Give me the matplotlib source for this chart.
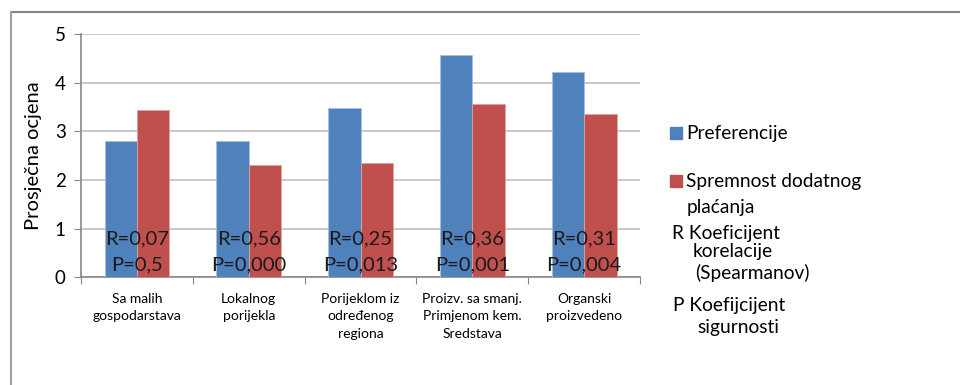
import numpy as np
import matplotlib.pyplot as plt
from matplotlib.lines import Line2D
from matplotlib.patches import Rectangle

plt.rcParams['font.family'] = ['Lato', 'DejaVu Sans']

# Average scores per product attribute
categories = ['Sa malih\ngospodarstava', 'Lokalnog\nporijekla', 'Porijeklom iz\nodređenog\nregiona',
              'Proizv. sa smanj.\nPrimjenom kem.\nSredstava', 'Organski\nproizvedeno']
preferencije = [2.80, 2.80, 3.48, 4.56, 4.22]
spremnost = [3.44, 2.31, 2.34, 3.56, 3.35]
r_values = ['0,07', '0,56', '0,25', '0,36', '0,31']
p_values = ['0,5', '0,000', '0,013', '0,001', '0,004']

blue = '#4F81BD'
red = '#C0504D'

fig = plt.figure(figsize=(9.6, 3.85), dpi=100)
ax = fig.add_axes([0.0844, 0.2797, 0.5823, 0.632])

x = np.arange(len(categories))
w = 0.29
ax.bar(x - w / 2, preferencije, w, color=blue, edgecolor='#A8BEDC', linewidth=0.6, zorder=3)
ax.bar(x + w / 2, spremnost, w, color=red, edgecolor='#DDA3A2', linewidth=0.6, zorder=3)

for i in x:
    ax.text(i, 0.80, 'R=' + r_values[i], ha='center', va='center', fontsize=14.5, color='#1a1a1a', zorder=4)
    ax.text(i, 0.26, 'P=' + p_values[i], ha='center', va='center', fontsize=14.5, color='#1a1a1a', zorder=4)

ax.set_xlim(-0.5, len(categories) - 0.5)
ax.set_ylim(0, 5)
ax.set_yticks(range(6))
ax.tick_params(axis='y', labelsize=13.5, length=5, color='#868686', pad=6)
ax.yaxis.grid(True, color='#C0C0C0', linewidth=1.2, zorder=0)
ax.set_axisbelow(True)

# category boundaries carry the ticks, names sit in between
ax.set_xticks(np.arange(-0.5, len(categories)), labels=[''] * (len(categories) + 1))
ax.set_xticks(x, labels=categories, minor=True)
ax.tick_params(axis='x', which='major', length=5, color='#868686')
ax.tick_params(axis='x', which='minor', length=0, labelsize=10, pad=11)
for lbl in ax.get_xticklabels(minor=True):
    lbl.set_linespacing(1.55)

for side in ('top', 'right'):
    ax.spines[side].set_visible(False)
for side in ('left', 'bottom'):
    ax.spines[side].set_color('#868686')
    ax.spines[side].set_linewidth(1.2)

ax.set_ylabel('Prosječna ocjena', fontsize=14.5, labelpad=9)

# legend and explanations on the right
def fy(py):
    return 1 - py / 385

def fx(px):
    return px / 960

for py, col, label in [(133, blue, 'Preferencije'), (181, red, 'Spremnost dodatnog')]:
    fig.add_artist(Rectangle((fx(670), fy(py + 6)), 11.5 / 960, 12 / 385,
                             transform=fig.transFigure, color=col))
    fig.text(fx(686), fy(py), label, fontsize=13.8, va='center', ha='left')
fig.text(fx(687), fy(208), 'plaćanja', fontsize=13.8, va='center', ha='left')
fig.text(fx(672), fy(233), 'R Koeficijent', fontsize=13.8, va='center', ha='left')
fig.text(fx(693), fy(252), 'korelacije', fontsize=13.8, va='center', ha='left')
fig.text(fx(695), fy(273), '(Spearmanov)', fontsize=13.8, va='center', ha='left')
fig.text(fx(673), fy(305), 'P Koefijcijent', fontsize=13.8, va='center', ha='left')
fig.text(fx(697), fy(328), 'sigurnosti', fontsize=13.8, va='center', ha='left')

# outer chart frame
fig.add_artist(Line2D([fx(10.5), 1], [fy(11.5), fy(11.5)], color='#868686', linewidth=1.5))
fig.add_artist(Line2D([fx(10.5), fx(10.5)], [0, fy(11.5)], color='#A0A0A0', linewidth=1.5))

fig.savefig('out.png', dpi=100)
